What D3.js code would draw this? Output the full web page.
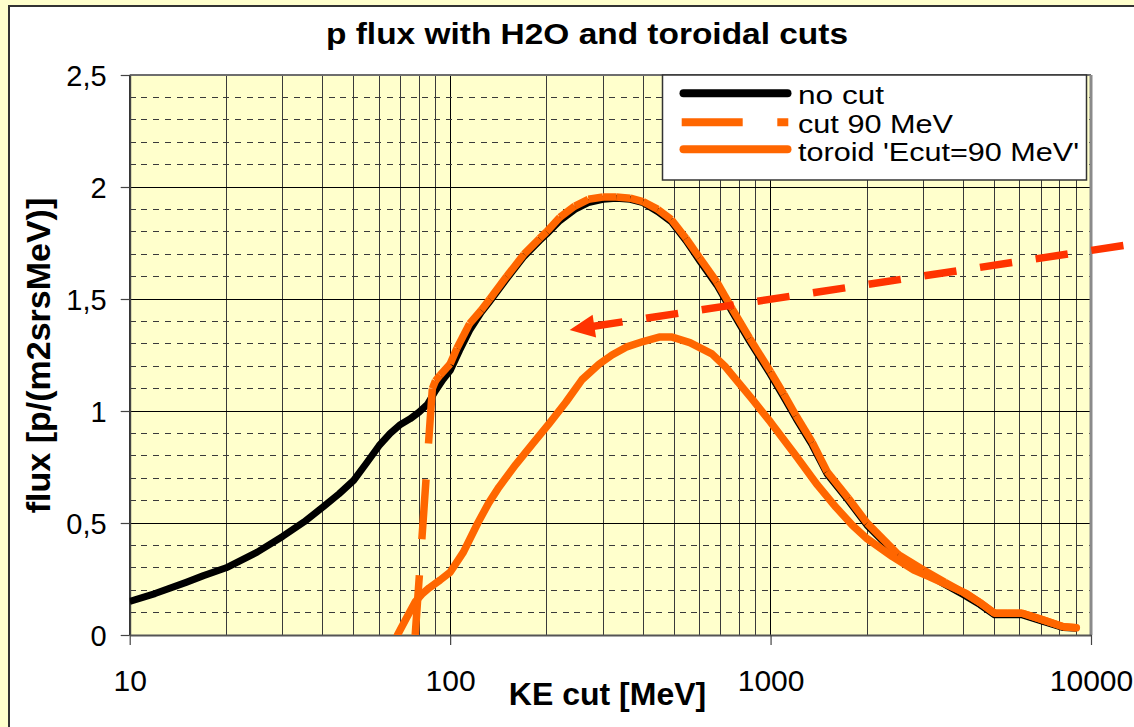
<!DOCTYPE html>
<html><head><meta charset="utf-8">
<script src="https://cdn.jsdelivr.net/npm/d3@7"></script>
<style>
html,body{margin:0;padding:0;background:#FFFFCC;}
svg{display:block;font-family:"Liberation Sans",Arial,Helvetica,sans-serif;}
</style>
</head><body>
<svg id="chart" width="1134" height="727"></svg>
<script>
// ---------- data ----------
const titleText = "p flux with H2O and toroidal cuts";
const xLabelText = "KE cut [MeV]";
const yLabelText = "flux [p/(m2srsMeV)]";
const seriesNames = ["no cut", "cut 90 MeV", "toroid 'Ecut=90 MeV'"];
const xTickValues = [10, 100, 1000, 10000];
const xTickLabels = ["10", "100", "1000", "10000"];
const yTickValues = [0, 0.5, 1, 1.5, 2, 2.5];
const yTickLabels = ["0", "0,5", "1", "1,5", "2", "2,5"];

// [KE cut (MeV), flux]
const noCut = [
  [10,0.15],[12,0.185],[15,0.235],[17,0.265],[20,0.30],[25,0.37],[30,0.44],[35,0.505],
  [40,0.57],[45,0.63],[50,0.69],[55,0.77],[60,0.845],[65,0.90],[70,0.94],[75,0.965],
  [80,0.995],[85,1.03],[90,1.09],[95,1.14],[100,1.18],[107,1.27],[115,1.36],[125,1.44],
  [133,1.49],[150,1.59],[170,1.69],[190,1.76],[200,1.79],[220,1.85],[245,1.90],[270,1.93],
  [300,1.945],[330,1.95],[365,1.945],[400,1.93],[445,1.89],[490,1.845],[545,1.76],[600,1.672],
  [680,1.562],[760,1.442],[860,1.312],[1000,1.162],[1100,1.062],[1200,0.967],[1350,0.847],[1500,0.72],
  [1750,0.60],[2000,0.49],[2500,0.352],[3000,0.282],[3500,0.226],[4000,0.18],[4500,0.136],
  [5000,0.09],[5500,0.09],[6100,0.09],[7000,0.063],[8200,0.033],[9000,0.03]
];
const cut90 = [
  [77.8,0],[88,1.10],[90,1.135],[93,1.16],[100,1.21],[105,1.28],[115,1.39],[125,1.45],
  [133,1.50],[150,1.60],[170,1.70],[190,1.77],[200,1.80],[220,1.865],[245,1.915],[270,1.945],
  [300,1.955],[330,1.955],[365,1.95],[400,1.935],[445,1.90],[490,1.855],[545,1.77],[600,1.685],
  [680,1.575],[760,1.455],[860,1.325],[1000,1.175],[1100,1.075],[1200,0.98],[1350,0.86],
  [1500,0.73],[1750,0.61],[2000,0.50],[2500,0.36],[3000,0.29],[3500,0.235],[4000,0.19],
  [4500,0.145],[5000,0.097],[5500,0.097],[6100,0.097],[7000,0.07],[8200,0.037],[9000,0.032]
];
const toroid = [
  [68.5,0],[73,0.075],[78,0.15],[82,0.185],[86,0.21],[93,0.245],[100,0.28],[110,0.37],
  [122,0.50],[132,0.59],[142,0.66],[160,0.76],[180,0.85],[204,0.945],[230,1.04],[258,1.14],
  [292,1.21],[320,1.25],[354,1.285],[400,1.31],[449,1.33],[493,1.33],[560,1.305],[656,1.255],
  [720,1.20],[780,1.14],[880,1.05],[1000,0.95],[1200,0.80],[1400,0.67],[1600,0.57],[1800,0.49],
  [2000,0.43],[2400,0.35],[2800,0.29],[3133,0.26],[3600,0.22],[4077,0.186],[4500,0.145],
  [5000,0.097],[5500,0.097],[6100,0.097],[7000,0.07],[8200,0.037],[9000,0.032]
];
// annotation arrow (data coordinates): from tail to tip
const arrowFrom = [13450, 1.745];
const arrowTo = [236, 1.362];

// ---------- layout ----------
const W = 1134, H = 727;
const plot = {left: 129.7, right: 1091, top: 75, bottom: 635};
const ORANGE = "#FF6600", ARROW = "#FF3300", GRID = "#3a3a3a", YELLOW = "#FFFFCC";

const svg = d3.select("#chart");
const x = d3.scaleLog().domain([10, 10000]).range([plot.left, plot.right]);
const y = d3.scaleLinear().domain([0, 2.5]).range([plot.bottom, plot.top]);

// backgrounds
svg.append("rect").attr("width", W).attr("height", H).attr("fill", YELLOW);
svg.append("rect").attr("x", 9).attr("y", 6).attr("width", W + 20).attr("height", H + 20)
  .attr("fill", "#fff").attr("stroke", "#333").attr("stroke-width", 2);
svg.append("rect").attr("x", plot.left).attr("y", plot.top)
  .attr("width", plot.right - plot.left).attr("height", plot.bottom - plot.top)
  .attr("fill", YELLOW);

// grid
const grid = svg.append("g").attr("shape-rendering", "crispEdges");
const vgrid = [];
for (let e = 1; e < 4; e++) for (let k = 1; k < 10; k++) vgrid.push(k * Math.pow(10, e));
grid.selectAll("line.v").data(vgrid).join("line").attr("class", "v")
  .attr("x1", d => x(d)).attr("x2", d => x(d))
  .attr("y1", plot.top).attr("y2", plot.bottom)
  .attr("stroke", d => (String(d)[0] === "1") ? "#000" : GRID).attr("stroke-width", 1);
const hgrid = d3.range(1, 25).map(i => i / 10);
grid.selectAll("line.h").data(hgrid).join("line").attr("class", "h")
  .attr("x1", plot.left).attr("x2", plot.right)
  .attr("y1", d => y(d)).attr("y2", d => y(d))
  .attr("stroke", (d, i) => ((i + 1) % 5 === 0) ? "#000" : GRID)
  .attr("stroke-width", 1)
  .attr("stroke-dasharray", (d, i) => ((i + 1) % 5 === 0) ? null : "6,5.7");

// plot frame (top/right)
svg.append("line").attr("x1", plot.left).attr("x2", plot.right).attr("y1", plot.top).attr("y2", plot.top)
  .attr("stroke", "#6e6e6e").attr("stroke-width", 2);
svg.append("line").attr("x1", plot.right).attr("x2", plot.right).attr("y1", plot.top).attr("y2", plot.bottom)
  .attr("stroke", "#8a8a8a").attr("stroke-width", 3);

// axes
const yAxis = d3.axisLeft(y).tickValues(yTickValues)
  .tickFormat((d, i) => yTickLabels[i]).tickSize(9).tickSizeOuter(0).tickPadding(14);
const gy = svg.append("g").attr("transform", `translate(${plot.left},0)`).call(yAxis);
gy.select(".domain").attr("stroke", "#444").attr("stroke-width", 2);
gy.selectAll(".tick line").attr("stroke", "#444").attr("stroke-width", 1.2);
gy.selectAll(".tick text").attr("font-size", 29).attr("fill", "#000")
  .attr("font-family", "'Liberation Sans',Arial,sans-serif").attr("dy", "0.36em");

const xAxis = d3.axisBottom(x).tickValues(xTickValues)
  .tickFormat((d, i) => xTickLabels[i]).tickSize(10).tickSizeOuter(0).tickPadding(25);
const gx = svg.append("g").attr("transform", `translate(0,${plot.bottom})`).call(xAxis);
gx.select(".domain").attr("stroke", "#555").attr("stroke-width", 2);
gx.selectAll(".tick line").attr("stroke", "#444").attr("stroke-width", 1.2);
gx.selectAll(".tick text").attr("font-size", 30).attr("fill", "#000")
  .attr("font-family", "'Liberation Sans',Arial,sans-serif").attr("dy", "0.71em");

// curves
const defs = svg.append("defs");
defs.append("clipPath").attr("id", "clip").append("rect")
  .attr("x", plot.left).attr("y", plot.top - 10)
  .attr("width", plot.right - plot.left).attr("height", plot.bottom - plot.top + 10);
const curves = svg.append("g").attr("clip-path", "url(#clip)");
const line = d3.line().x(d => x(d[0])).y(d => y(d[1]));

curves.append("path").datum(noCut).attr("d", line)
  .attr("fill", "none").attr("stroke", "#000").attr("stroke-width", 7)
  .attr("stroke-linejoin", "round");

// dashed series: dash pattern restarts at every data point (spreadsheet style)
const segs = d3.pairs(cut90);
curves.selectAll("line.cut").data(segs).join("line").attr("class", "cut")
  .attr("x1", d => x(d[0][0])).attr("y1", d => y(d[0][1]))
  .attr("x2", d => x(d[1][0])).attr("y2", d => y(d[1][1]))
  .attr("stroke", ORANGE).attr("stroke-width", 7.5)
  .attr("stroke-dasharray", "60,36").attr("stroke-linecap", "butt");

curves.append("path").datum(toroid).attr("d", line)
  .attr("fill", "none").attr("stroke", ORANGE).attr("stroke-width", 7.5)
  .attr("stroke-linejoin", "round").attr("stroke-linecap", "round");

// legend
const lg = svg.append("g");
lg.append("rect").attr("x", 662.5).attr("y", plot.top).attr("width", 424).attr("height", 105)
  .attr("fill", "#fff").attr("stroke", "#333").attr("stroke-width", 1.5);
const legRows = [93.3, 122.3, 149.3];
const legText = [[104, 86], [132.5, 155], [161, 281]];
lg.append("line").attr("x1", 683.5).attr("x2", 787.5).attr("y1", legRows[0]).attr("y2", legRows[0])
  .attr("stroke", "#000").attr("stroke-width", 8).attr("stroke-linecap", "round");
lg.append("line").attr("x1", 681.7).attr("x2", 788.3).attr("y1", legRows[1]).attr("y2", legRows[1])
  .attr("stroke", ORANGE).attr("stroke-width", 8).attr("stroke-dasharray", "61,34.6");
lg.append("line").attr("x1", 683.5).attr("x2", 787.5).attr("y1", legRows[2]).attr("y2", legRows[2])
  .attr("stroke", ORANGE).attr("stroke-width", 8).attr("stroke-linecap", "round");
seriesNames.forEach((n, i) => {
  lg.append("text").attr("x", 798).attr("y", legText[i][0]).attr("font-size", 25)
    .attr("textLength", legText[i][1]).attr("lengthAdjust", "spacingAndGlyphs")
    .text(n);
});

// arrow annotation
const p0 = [x(arrowTo[0]), y(arrowTo[1])];
const p1 = [x(arrowFrom[0]), y(arrowFrom[1])];
const L = Math.hypot(p1[0] - p0[0], p1[1] - p0[1]);
const ux = (p1[0] - p0[0]) / L, uy = (p1[1] - p0[1]) / L;
const headLen = 25, headHalf = 11.5, shaftStart = 21;
svg.append("line")
  .attr("x1", p0[0] + ux * shaftStart).attr("y1", p0[1] + uy * shaftStart)
  .attr("x2", p1[0]).attr("y2", p1[1])
  .attr("stroke", ARROW).attr("stroke-width", 7.5).attr("stroke-dasharray", "32.5,23.8");
const hb = [p0[0] + ux * headLen, p0[1] + uy * headLen];
svg.append("path")
  .attr("d", `M${p0[0]},${p0[1]}L${hb[0] - uy * headHalf},${hb[1] + ux * headHalf}L${hb[0] + uy * headHalf},${hb[1] - ux * headHalf}Z`)
  .attr("fill", ARROW);

// titles
svg.append("text").attr("x", 587).attr("y", 44).attr("text-anchor", "middle")
  .attr("font-size", 29).attr("font-weight", "bold")
  .attr("textLength", 522).attr("lengthAdjust", "spacingAndGlyphs").text(titleText);
svg.append("text").attr("x", 607.5).attr("y", 705).attr("text-anchor", "middle")
  .attr("font-size", 32).attr("font-weight", "bold").text(xLabelText);
svg.append("text").attr("transform", "translate(50,355.5) rotate(-90)").attr("text-anchor", "middle")
  .attr("font-size", 34).attr("font-weight", "bold").text(yLabelText);
</script>
</body></html>
